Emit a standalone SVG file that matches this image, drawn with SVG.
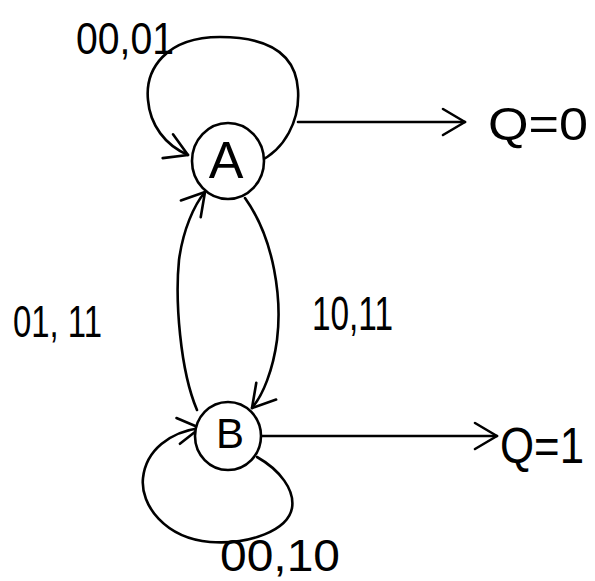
<svg xmlns="http://www.w3.org/2000/svg" width="595" height="581" viewBox="0 0 595 581">
<style>
.e{fill:none;stroke:#000;stroke-width:2.6;stroke-linecap:round;stroke-linejoin:round}
.n{fill:#fff;stroke:#000;stroke-width:2.6}
.t{font-family:"Liberation Sans",Arial,sans-serif;fill:#000}
</style>
<defs>
<marker id="ah" markerUnits="userSpaceOnUse" markerWidth="40" markerHeight="40" refX="0" refY="0" viewBox="-30 -20 40 40" orient="auto">
<path d="M-22,-13 L0,0 L-22,13" fill="none" stroke="#000" stroke-width="2.6" stroke-linecap="round" stroke-linejoin="round"/>
</marker>
</defs>
<rect width="595" height="581" fill="#fff"/>
<g id="connectors">
<path class="e" d="M258,162 C285,150 300,120 298,90 C296,55 270,37 220,37 C165,37 145,70 148,100 C150,125 165,145 188,155" marker-end="url(#ah)"/>
<path class="e" d="M298,122 L465,122" marker-end="url(#ah)"/>
<path class="e" d="M245,198 C275,240 282,300 277,340 C273,370 263,395 252,408" marker-end="url(#ah)"/>
<path class="e" d="M197,410 C180,370 175,300 179,260 C183,230 194,205 205,192" marker-end="url(#ah)"/>
<path class="e" d="M257,457 C280,470 295,490 292,508 C288,530 250,545 210,542 C165,538 140,505 143,478 C146,450 170,432 200,428" marker-end="url(#ah)"/>
<path class="e" d="M262,436 L497,436" marker-end="url(#ah)"/>
<text class="t" x="76" y="54" font-size="44" textLength="98" lengthAdjust="spacingAndGlyphs">00,01</text>
<text class="t" x="312" y="330" font-size="48" textLength="81" lengthAdjust="spacingAndGlyphs">10,11</text>
<text class="t" x="13" y="337" font-size="44" textLength="89" lengthAdjust="spacingAndGlyphs">01, 11</text>
<text class="t" x="220" y="571" font-size="44" textLength="120" lengthAdjust="spacingAndGlyphs">00,10</text>
</g>
<g id="A">
<ellipse class="n" cx="228" cy="161" rx="36" ry="38"/>
<text class="t" x="226" y="178" font-size="52" text-anchor="middle">A</text>
</g>
<g id="B">
<ellipse class="n" cx="228" cy="436" rx="33" ry="34"/>
<text class="t" x="230" y="448" font-size="42" text-anchor="middle">B</text>
</g>
<g id="outA">
<text class="t" x="488" y="140" font-size="46" textLength="100" lengthAdjust="spacingAndGlyphs">Q=0</text>
</g>
<g id="outB">
<text class="t" x="500" y="463" font-size="50" textLength="84" lengthAdjust="spacingAndGlyphs">Q=1</text>
</g>
</svg>
